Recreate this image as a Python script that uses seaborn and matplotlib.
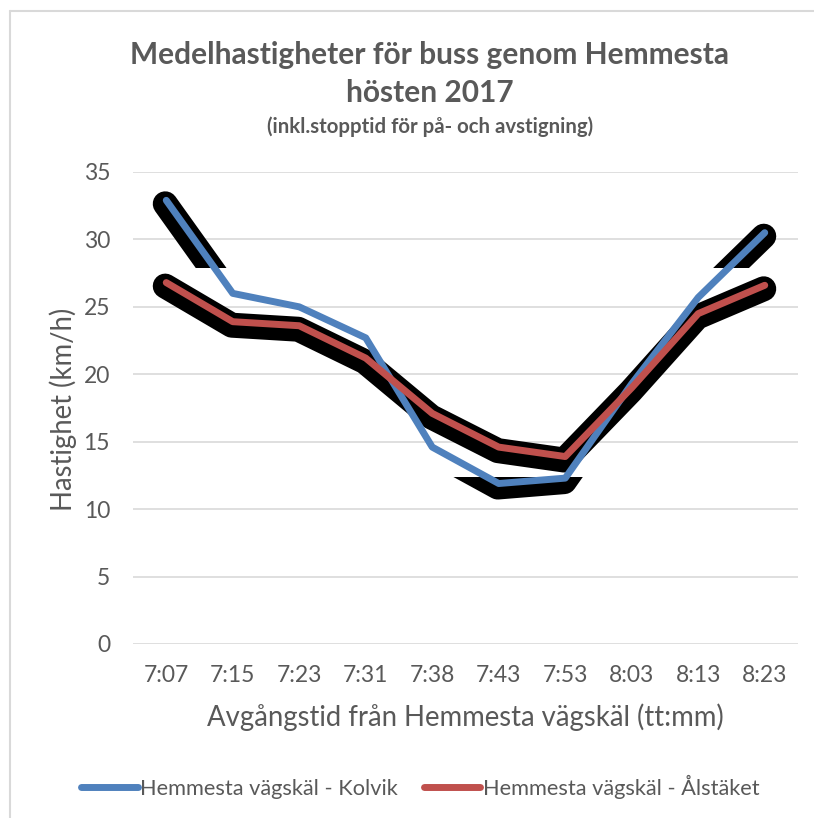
import pandas as pd
import matplotlib
matplotlib.use("Agg")
import matplotlib.pyplot as plt
import matplotlib.transforms as mtransforms
from matplotlib.patches import Rectangle
from matplotlib.lines import Line2D
import seaborn as sns

# -------------------------------
# Data
# -------------------------------
times = ["7:07", "7:15", "7:23", "7:31", "7:38", "7:43", "7:53", "8:03", "8:13", "8:23"]
kolvik = [32.9, 26.0, 25.0, 22.7, 14.6, 11.9, 12.3, 19.3, 25.7, 30.5]
alstaket = [26.8, 23.9, 23.6, 21.2, 17.1, 14.6, 13.9, 19.0, 24.5, 26.6]
yticks = [0, 5, 10, 15, 20, 25, 30, 35]

name_k = "Hemmesta vägskäl - Kolvik"
name_a = "Hemmesta vägskäl - Ålstäket"

# Excel 2007 colours
color_map = {name_k: "#4F81BD", name_a: "#C0504D"}
text_col = "#595959"
grid_col = "#D9D9D9"

df = pd.concat([
    pd.DataFrame({"tid": times, "hastighet": kolvik, "serie": name_k}),
    pd.DataFrame({"tid": times, "hastighet": alstaket, "serie": name_a}),
], ignore_index=True)

# -------------------------------
# Figure
# -------------------------------
sns.set_theme(style="white")
plt.rcParams["font.family"] = ["Lato", "DejaVu Sans"]

fig = plt.figure(figsize=(8.14, 8.18), dpi=100)
ax = fig.add_axes([133 / 814, 174 / 818, 665 / 814, 472 / 818])

# shadow under the lines (black, fat, shifted a little down)
shadow_tr = mtransforms.offset_copy(ax.transData, fig=fig, x=-1, y=-3.5, units="dots")


def shadow(values, clip=None):
    sns.lineplot(x=times, y=values, color="black", linewidth=18, sort=False,
                 legend=False, ax=ax)
    ln = ax.lines[-1]
    ln.set_transform(shadow_tr)
    ln.set_solid_capstyle("round")
    ln.set_solid_joinstyle("round")
    if clip is not None:
        ln.set_clip_path(Rectangle((-1, clip[0]), 12, clip[1] - clip[0],
                                   transform=ax.transData))


shadow(alstaket)
shadow(kolvik, clip=(27.9, 40))
shadow(kolvik, clip=(-5, 12.35))

sns.lineplot(data=df, x="tid", y="hastighet", hue="serie", palette=color_map,
             linewidth=5, sort=False, legend=False, ax=ax)
for ln in ax.lines[-2:]:
    ln.set_solid_capstyle("round")
    ln.set_solid_joinstyle("round")

ax.set_xlim(-0.5, len(times) - 0.5)
ax.set_ylim(0, 35)
ax.set_yticks(yticks)
ax.grid(axis="y", color=grid_col, linewidth=1.2)
ax.grid(axis="x", visible=False)
ax.set_axisbelow(True)
for s in ax.spines.values():
    s.set_visible(False)
ax.tick_params(axis="both", length=0, labelsize=16.5, labelcolor=text_col)
ax.tick_params(axis="y", pad=16.5)
ax.tick_params(axis="x", pad=15)

ax.set_xlabel("Avgångstid från Hemmesta vägskäl (tt:mm)", fontsize=19.8,
              color=text_col)
ax.set_ylabel("Hastighet (km/h)", fontsize=19.8, color=text_col)
ax.yaxis.set_label_coords(77 / 814, 1 - 409 / 818, transform=fig.transFigure)
ax.xaxis.set_label_coords(465 / 814, 1 - 703 / 818, transform=fig.transFigure)

# titles
fig.text(430 / 814, 1 - 55 / 818, "Medelhastigheter för buss genom Hemmesta",
         ha="center", va="center", fontsize=21.5, fontweight="bold", color=text_col)
fig.text(430 / 814, 1 - 93 / 818, "hösten 2017",
         ha="center", va="center", fontsize=21.5, fontweight="bold", color=text_col)
fig.text(430 / 814, 1 - 127 / 818, "(inkl.stopptid för på- och avstigning)",
         ha="center", va="center", fontsize=14.7, fontweight="bold", color=text_col)

# legend
handles = [Line2D([0], [0], color=c, lw=5, solid_capstyle="round", label=n)
           for n, c in color_map.items()]
fig.legend(handles=handles, loc="center", bbox_to_anchor=(420 / 814, 1 - 787 / 818),
           ncol=2, frameon=False, fontsize=15.7, handlelength=2.6, handletextpad=0.1,
           columnspacing=1.2, labelcolor=text_col)

# chart border (left and top edges visible in the crop)
fig.add_artist(Line2D([9.5 / 814, 9.5 / 814], [0, 1 - 11 / 818], color=grid_col,
                      lw=1.5, transform=fig.transFigure))
fig.add_artist(Line2D([9.5 / 814, 1], [1 - 11 / 818, 1 - 11 / 818], color=grid_col,
                      lw=1.5, transform=fig.transFigure))

fig.savefig("out.png", dpi=100, facecolor="white")
